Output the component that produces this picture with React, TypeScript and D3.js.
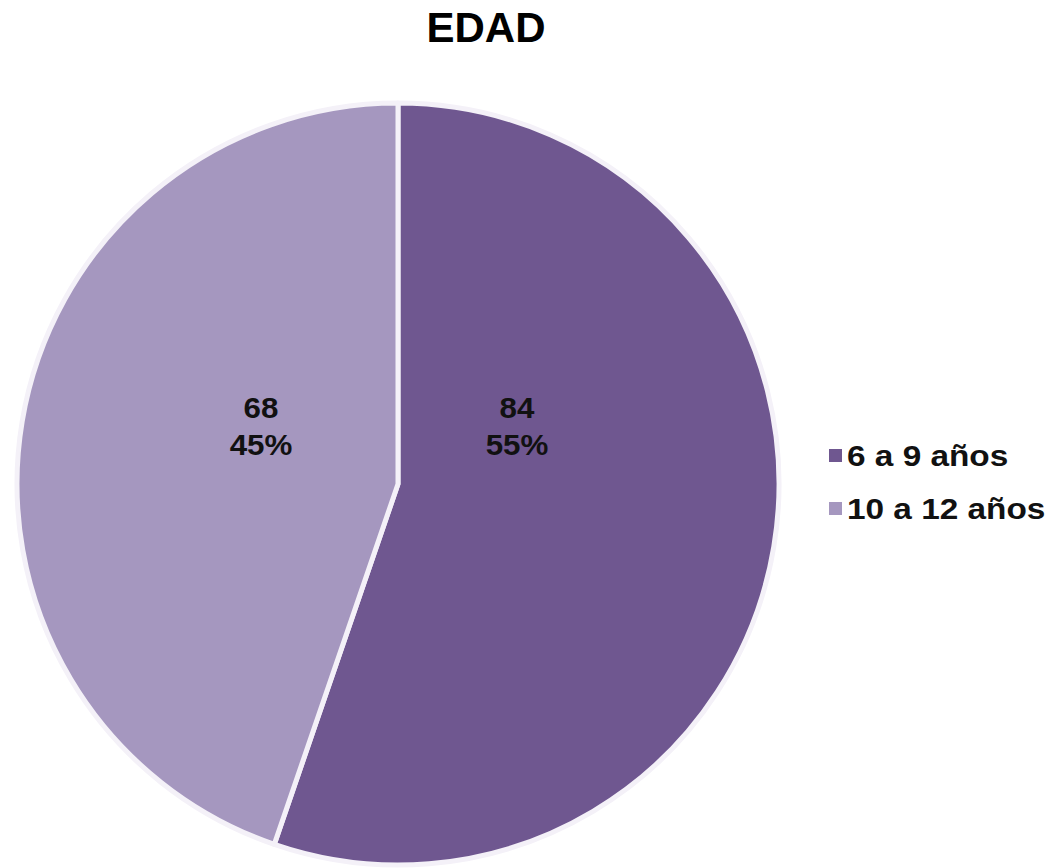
import React from "react";
import * as d3 from "d3";

const categories = ["6 a 9 años", "10 a 12 años"];
const values = [84, 68];
const colors = ["#6f5790", "#a597bf"];
const title = "EDAD";

const W = 1053;
const H = 868;

export default function App() {
  const cx = 398;
  const cy = 484;
  const r = 381;
  const total = d3.sum(values);
  const pie = d3.pie<number>().sort(null).value((d) => d);
  const arcs = pie(values);
  const arcGen = d3.arc<d3.PieArcDatum<number>>().innerRadius(0).outerRadius(r);
  const fmtPct = (v: number) => `${Math.round((v / total) * 100)}%`;
  const labelPos = [
    { x: 517, y: 418 },
    { x: 261, y: 418 },
  ];
  const font = "Arial, 'Liberation Sans', sans-serif";
  return (
    <svg width={W} height={H} style={{ position: "absolute", left: 0, top: 0, background: "#fff" }}>
      <text x={486} y={42} textAnchor="middle" fontFamily={font} fontWeight="bold" fontSize={42} fill="#000">
        {title}
      </text>
      <g transform={`translate(${cx},${cy})`}>
        {arcs.map((a, i) => (
          <path key={i} d={arcGen(a) || ""} fill={colors[i]} stroke="#f4f1f8" strokeWidth={5} strokeLinejoin="round" />
        ))}
      </g>
      {arcs.map((a, i) => (
        <g key={i} transform={`translate(${labelPos[i].x},${labelPos[i].y}) scale(1.08,1)`}>
          <text textAnchor="middle" fontFamily={font} fontWeight="bold" fontSize={29} fill="#111">
            <tspan x={0} y={0}>{values[i]}</tspan>
            <tspan x={0} y={37}>{fmtPct(values[i])}</tspan>
          </text>
        </g>
      ))}
      {categories.map((c, i) => (
        <g key={c} transform={`translate(829,${449 + i * 53})`}>
          <rect x={0} y={0} width={13} height={13} fill={colors[i]} />
          <g transform="translate(18,17) scale(1.15,1)">
            <text x={0} y={0} fontFamily={font} fontWeight="bold" fontSize={29} fill="#111">
              {c}
            </text>
          </g>
        </g>
      ))}
    </svg>
  );
}
